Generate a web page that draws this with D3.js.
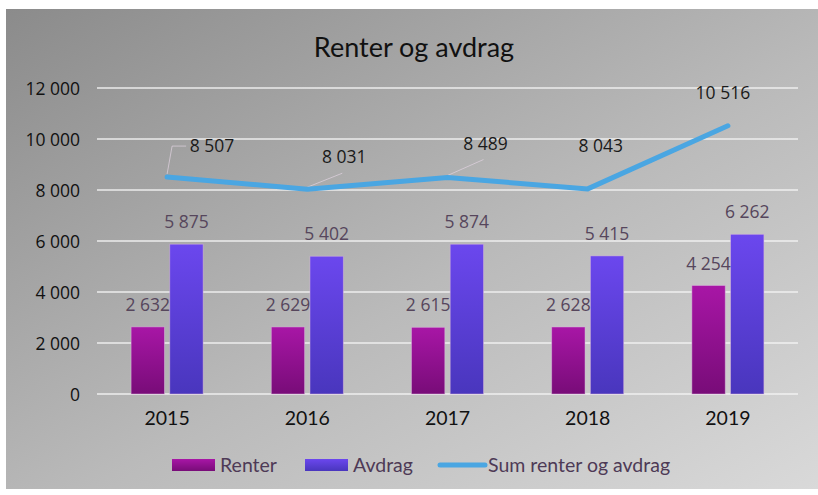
<!DOCTYPE html>
<html><head><meta charset="utf-8">
<script src="https://cdn.jsdelivr.net/npm/d3@7/dist/d3.min.js"></script>
<style>
html,body{margin:0;padding:0;background:#fff;}
svg{display:block;}
.cond{font-family:"Lato","Liberation Sans Narrow",sans-serif;}
.lbl{font-family:"Open Sans","DejaVu Sans",sans-serif;}
</style></head>
<body>
<svg id="c" width="818" height="495"></svg>
<script>
const years = ["2015","2016","2017","2018","2019"];
const renter = [2632, 2629, 2615, 2628, 4254];
const avdrag = [5875, 5402, 5874, 5415, 6262];
const sum = [8507, 8031, 8489, 8043, 10516];
const yTicks = [0, 2000, 4000, 6000, 8000, 10000, 12000];
const seriesNames = ["Renter", "Avdrag", "Sum renter og avdrag"];
// label offsets (pixels) for the manually placed line labels
const sumLabelOffset = [[45,-31],[37,-32],[38,-34],[13,-43],[-5,-33]];

const svg = d3.select("#c");
const W = 818, H = 495;
const defs = svg.append("defs");
const bg = defs.append("linearGradient").attr("id","bg").attr("x1","0").attr("y1","0").attr("x2","1").attr("y2","1");
bg.append("stop").attr("offset","0").attr("stop-color","#8b8b8b");
bg.append("stop").attr("offset","0.55").attr("stop-color","#bababa");
bg.append("stop").attr("offset","1").attr("stop-color","#d9d9d9");
const gR = defs.append("linearGradient").attr("id","gR").attr("x1","0").attr("y1","0").attr("x2","0").attr("y2","1");
gR.append("stop").attr("offset","0").attr("stop-color","#a816a6");
gR.append("stop").attr("offset","1").attr("stop-color","#780c78");
const gA = defs.append("linearGradient").attr("id","gA").attr("x1","0").attr("y1","0").attr("x2","0").attr("y2","1");
gA.append("stop").attr("offset","0").attr("stop-color","#6b47ee");
gA.append("stop").attr("offset","1").attr("stop-color","#4936bd");

svg.append("rect").attr("x",6).attr("y",9).attr("width",W-6).attr("height",480).attr("fill","url(#bg)");

const left = 97, right = 798;
const x = d3.scaleBand().domain(years).range([left,right]);
const y = d3.scaleLinear().domain([0,12000]).range([394,88]);
const fmt = v => d3.format(",")(v).replace(/,/g," ");

// gridlines
svg.append("g").selectAll("line").data(yTicks).join("line")
  .attr("x1",left).attr("x2",right).attr("y1",d=>y(d)).attr("y2",d=>y(d))
  .attr("stroke","#f4f4f4").attr("stroke-width",1.6).attr("opacity",0.9);

// y axis labels
const yAxis = d3.axisLeft(y).tickValues(yTicks).tickSize(0).tickPadding(0).tickFormat(fmt);
const gy = svg.append("g").attr("transform","translate(80,0)").call(yAxis);
gy.select(".domain").remove();
gy.selectAll("text").attr("class","lbl").attr("font-size",17.5).attr("fill","#111").attr("dy","0.35em");

// x axis labels
const xAxis = d3.axisBottom(x).tickSize(0).tickPadding(0);
const gx = svg.append("g").attr("transform","translate(0,411)").call(xAxis);
gx.select(".domain").remove();
gx.selectAll("text").attr("class","cond").attr("font-size",19.5).attr("fill","#111").attr("dy","0.71em");

// bars
const bw = 31, gap = 10;
const sub = d3.scaleBand().domain([0,1]).range([-(bw+gap/2), bw+gap/2]).paddingInner(gap/(2*bw+gap));
const barData = years.map((yr,i)=>[{yr,v:renter[i],k:0},{yr,v:avdrag[i],k:1}]).flat();
const cx = d => x(d.yr) + x.bandwidth()/2;
svg.append("g").selectAll("rect").data(barData).join("rect")
  .attr("x",d=>cx(d)+sub(d.k)).attr("width",sub.bandwidth())
  .attr("y",d=>y(d.v)).attr("height",d=>y(0)-y(d.v))
  .attr("fill",d=>d.k===0?"url(#gR)":"url(#gA)")
  .attr("stroke","#d9b6dc").attr("stroke-width",0.8).attr("stroke-opacity",0.6);
svg.append("g").selectAll("text").data(barData).join("text")
  .attr("class","lbl").attr("font-size",17.5).attr("fill","#56465c")
  .attr("text-anchor","middle")
  .attr("x",d=>cx(d)+sub(d.k)+sub.bandwidth()/2)
  .attr("y",d=>y(d.v)-16)
  .text(d=>fmt(d.v));

// line
const pts = years.map((yr,i)=>({yr,v:sum[i],i}));
// leader lines
const lead = svg.append("g").attr("fill","none").attr("stroke","#e8d8e8").attr("stroke-width",0.9).attr("opacity",0.7);
pts.forEach(p=>{
  const px = x(p.yr)+x.bandwidth()/2, py = y(p.v);
  const o = sumLabelOffset[p.i];
  if (p.i===0) {
    lead.append("path").attr("d",`M${px},${py-3} L${px+5},${py+o[1]} L${px+o[0]-26},${py+o[1]}`);
  } else if (p.i<3) {
    lead.append("path").attr("d",`M${px},${py-2} L${px+o[0]-2},${py+o[1]+16}`);
  }
});
const line = d3.line().x(d=>x(d.yr)+x.bandwidth()/2).y(d=>y(d.v));
svg.append("path").datum(pts).attr("d",line).attr("fill","none")
  .attr("stroke","#4aa6e2").attr("stroke-width",5).attr("stroke-linecap","round").attr("stroke-linejoin","round");
svg.append("g").selectAll("text").data(pts).join("text")
  .attr("class","lbl").attr("font-size",17.5).attr("fill","#1a1a1a").attr("text-anchor","middle")
  .attr("x",d=>x(d.yr)+x.bandwidth()/2+sumLabelOffset[d.i][0])
  .attr("y",d=>y(d.v)+sumLabelOffset[d.i][1]+6)
  .text(d=>fmt(d.v));

// title
svg.append("text").attr("class","cond").attr("x",414).attr("y",57).attr("text-anchor","middle")
  .attr("font-size",27).attr("fill","#111").text("Renter og avdrag");

// legend
const lg = svg.append("g").attr("class","cond").attr("font-size",19.5).attr("fill","#4e3a56");
lg.append("rect").attr("x",172).attr("y",459).attr("width",43).attr("height",12).attr("fill","url(#gR)");
lg.append("text").attr("x",220).attr("y",472).text(seriesNames[0]);
lg.append("rect").attr("x",305).attr("y",459).attr("width",43).attr("height",12).attr("fill","url(#gA)");
lg.append("text").attr("x",353).attr("y",472).text(seriesNames[1]);
lg.append("line").attr("x1",440).attr("x2",485).attr("y1",465).attr("y2",465)
  .attr("stroke","#4aa6e2").attr("stroke-width",5).attr("stroke-linecap","round");
lg.append("text").attr("x",488).attr("y",472).text(seriesNames[2]);
</script>
</body></html>
